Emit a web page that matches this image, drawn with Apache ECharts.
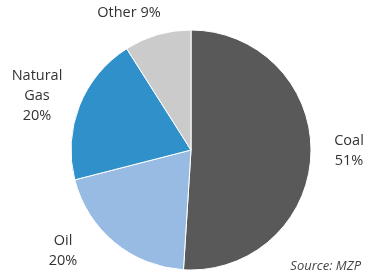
<!DOCTYPE html>
<html><head><meta charset="utf-8">
<script src="https://cdn.jsdelivr.net/npm/echarts@6/dist/echarts.min.js"></script>
<style>html,body{margin:0;padding:0;background:#fff}#c{width:369px;height:277px}</style>
</head><body><div id="c"></div>
<script>
const categories = ['Coal', 'Oil', 'Natural\nGas', 'Other'];
const values = [51, 20, 20, 9];
const colors = ['#595959', '#97BBE2', '#3090CA', '#CBCBCB'];
const labelPos = [
  {x: 349, y: 151},
  {x: 63, y: 251},
  {x: 37, y: 96},
  {x: 129, y: 13}
];
const chart = echarts.init(document.getElementById('c'));
chart.setOption({
  animation: false,
  series: [{
    type: 'pie',
    center: [191, 150],
    radius: [0, 120],
    startAngle: 90,
    clockwise: true,
    avoidLabelOverlap: false,
    data: categories.map((n, i) => ({name: n, value: values[i], itemStyle: {color: colors[i]}})),
    itemStyle: {borderColor: '#fff', borderWidth: 1},
    label: {
      show: true, position: 'outside', alignTo: 'none', overflow: 'none', bleedMargin: 0,
      formatter: p => p.dataIndex === 3 ? p.name + ' ' + p.value + '%' : p.name + '\n' + p.value + '%',
      fontFamily: 'Open Sans', fontSize: 14.5, lineHeight: 20, color: '#333'
    },
    labelLine: {show: false},
    labelLayout: p => ({x: labelPos[p.dataIndex].x, y: labelPos[p.dataIndex].y, align: 'center', verticalAlign: 'middle', hideOverlap: false})
  }],
  graphic: [{
    type: 'text', right: 8, top: 260,
    style: {text: 'Source: MZP', font: 'italic 13px "Open Sans"', fill: '#444'}
  }]
});
</script></body></html>
